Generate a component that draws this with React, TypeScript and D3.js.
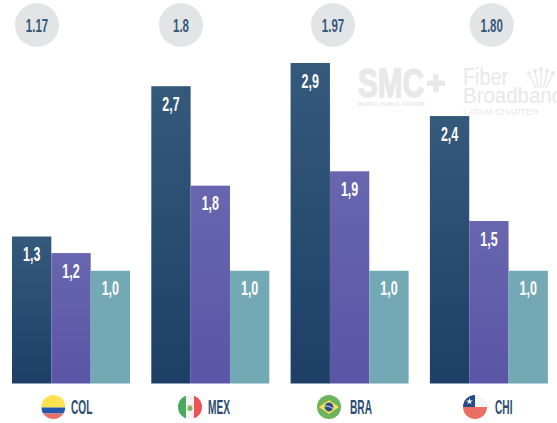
import React from "react";
import * as d3 from "d3";

const countries = ["COL", "MEX", "BRA", "CHI"];
const circleLabels = ["1.17", "1.8", "1.97", "1.80"];
const seriesKeys = ["a", "b", "c"];
const seriesA = [1.33, 2.69, 2.9, 2.42];
const seriesB = [1.18, 1.79, 1.92, 1.47];
const seriesC = [1.02, 1.02, 1.02, 1.02];
const labelsA = ["1,3", "2,7", "2,9", "2,4"];
const labelsB = ["1,2", "1,8", "1,9", "1,5"];
const labelsC = ["1,0", "1,0", "1,0", "1,0"];
const circleX = [37, 181, 333, 491.7];
const flagX = [53.3, 190, 329, 475];
const nameX = [71, 208, 350, 495];

const W = 557, H = 423;
const BASE = 383.5;
const y = d3.scaleLinear().domain([0, 2.9]).range([BASE, 63]);
const x0 = d3.scaleBand().domain(countries).range([12, 12 + 139.3 * 4]);
const x1 = d3.scaleBand().domain(seriesKeys).range([0, 118]);
const sans = "'Liberation Sans',sans-serif";

function Cond({ x, y, size, sx, anchor, fill, children }: any) {
  return (
    <text transform={`translate(${x},${y}) scale(${sx},1)`} textAnchor={anchor} fontFamily={sans} fontWeight={700} fontSize={size} fill={fill}>
      {children}
    </text>
  );
}

function Flag({ c, cx, cy }: { c: string; cx: number; cy: number }) {
  const r = 12;
  const id = "clip" + c;
  let inner: React.ReactNode = null;
  if (c === "COL") inner = <>
    <rect x={cx - r} y={cy - r} width={24} height={12.5} fill="#fde34f" />
    <rect x={cx - r} y={cy + 0.5} width={24} height={6} fill="#2458ab" />
    <rect x={cx - r} y={cy + 6.5} width={24} height={6} fill="#ea6f66" />
  </>;
  if (c === "MEX") inner = <>
    <rect x={cx - r} y={cy - r} width={8} height={24} fill="#4aa860" />
    <rect x={cx - 4} y={cy - r} width={8} height={24} fill="#f3f3f3" />
    <rect x={cx + 4} y={cy - r} width={8} height={24} fill="#ee5253" />
    <path d={`M${cx - 3.5} ${cy - 1.5}h7l-3.5 2z`} fill="#ef9a3a" />
    <circle cx={cx} cy={cy + 1.5} r={2.5} fill="#7fb563" />
  </>;
  if (c === "BRA") inner = <>
    <rect x={cx - r} y={cy - r} width={24} height={24} fill="#6cb35b" />
    <path d={`M${cx - 10} ${cy}L${cx} ${cy - 7}L${cx + 10} ${cy}L${cx} ${cy + 7}Z`} fill="#fbdc5c" />
    <circle cx={cx} cy={cy} r={4.4} fill="#234f8e" />
    <path d={`M${cx - 4} ${cy - 1}Q${cx} ${cy - 1.5} ${cx + 4} ${cy + 1.5}`} stroke="#fff" strokeWidth={0.8} fill="none" />
  </>;
  if (c === "CHI") inner = <>
    <rect x={cx - r} y={cy - r} width={24} height={12} fill="#f6f6f6" />
    <rect x={cx - r} y={cy - r} width={12} height={12} fill="#234a8a" />
    <rect x={cx - r} y={cy} width={24} height={12} fill="#ea6f62" />
    <path d={d3.symbol(d3.symbolStar, 14)() as string} transform={`translate(${cx - 5.5},${cy - 5.5})`} fill="#fff" />
  </>;
  return <g>
    <clipPath id={id}><circle cx={cx} cy={cy} r={r} /></clipPath>
    <g clipPath={`url(#${id})`}>{inner}</g>
  </g>;
}

export default function App() {
  const series = [
    { key: "a", vals: seriesA, labels: labelsA, fill: "url(#gA)" },
    { key: "b", vals: seriesB, labels: labelsB, fill: "url(#gB)" },
    { key: "c", vals: seriesC, labels: labelsC, fill: "#73a9b5" },
  ];
  return (
    <svg width={W} height={H} style={{ position: "fixed", left: 0, top: 0, background: "#fff" }}>
      <defs>
        <linearGradient id="gA" x1="0" y1="0" x2="0" y2="1">
          <stop offset="0" stopColor="#35597b" /><stop offset="1" stopColor="#1d3f67" />
        </linearGradient>
        <linearGradient id="gB" x1="0" y1="0" x2="0" y2="1">
          <stop offset="0" stopColor="#6866af" /><stop offset="1" stopColor="#5a55a6" />
        </linearGradient>
      </defs>

      {/* faint logos */}
      <g fill="#e8e8e8" fontFamily={sans}>
        <text x={358} y={96.5} fontSize={40} fontWeight={700} stroke="#e8e8e8" strokeWidth={1.5} textLength={66} lengthAdjust="spacingAndGlyphs">SMC</text>
        <path d="M427 80.5h6v-6h5.5v6h6.5v5.5h-6.5v6h-5.5v-6h-6z" />
        <text x={357} y={106} fontSize={5} fontWeight={700} textLength={68} lengthAdjust="spacingAndGlyphs">DIGITAL PUBLIC AFFAIRS</text>
        <text x={463} y={85} fontSize={23} textLength={45} lengthAdjust="spacingAndGlyphs">Fiber</text>
        <text x={463} y={103} fontSize={22} textLength={100} lengthAdjust="spacingAndGlyphs">Broadband</text>
        <text x={463} y={115} fontSize={8.5} textLength={76} lengthAdjust="spacingAndGlyphs">LATAM CHAPTER</text>
        {[-2, -1, 0, 1, 2].map((k) => (
          <g key={k} stroke="#e8e8e8" strokeWidth={1.4}>
            <line x1={541 + k * 2.5} y1={88} x2={541 + k * 6} y2={74 - (2 - Math.abs(k)) * 2} />
            <circle cx={541 + k * 6} cy={73 - (2 - Math.abs(k)) * 2} r={1.2} />
          </g>
        ))}
      </g>

      {countries.map((c, i) => {
        const gx = x0(c)!;
        return (
          <g key={c}>
            <circle cx={circleX[i]} cy={25} r={22} fill="#e3e4e6" />
            <Cond x={circleX[i]} y={31.5} size={18.5} sx={0.62} anchor="middle" fill="#35597b">{circleLabels[i]}</Cond>
            {series.map((s) => {
              const bx = gx + x1(s.key)!;
              const top = y(s.vals[i]);
              return (
                <g key={s.key}>
                  <rect x={bx} y={top} width={x1.bandwidth()} height={BASE - top} fill={s.fill} />
                  <Cond x={bx + x1.bandwidth() / 2} y={top + 24.5} size={19.5} sx={0.64} anchor="middle" fill="#fff">{s.labels[i]}</Cond>
                </g>
              );
            })}
            <Flag c={c} cx={flagX[i]} cy={407} />
            <Cond x={nameX[i]} y={414} size={19.5} sx={0.52} anchor="start" fill="#2c4d72">{c}</Cond>
          </g>
        );
      })}
    </svg>
  );
}
